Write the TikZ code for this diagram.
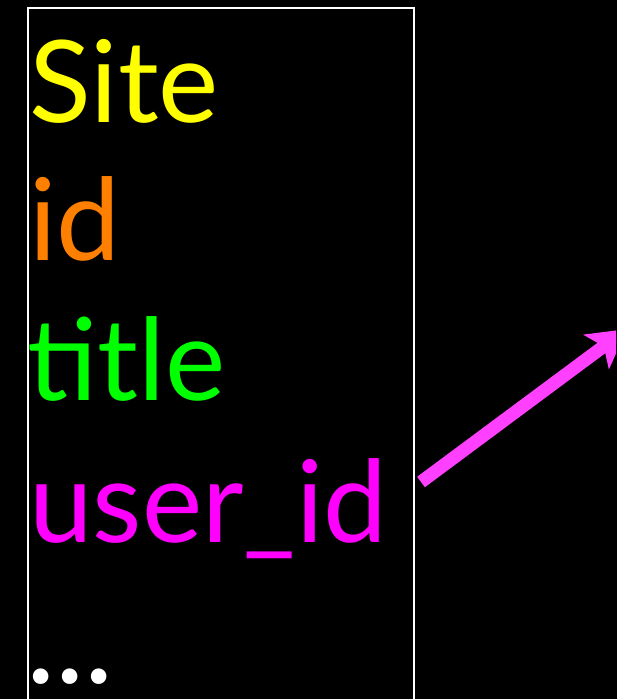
\documentclass[tikz,border=0pt]{standalone}
\usepackage{fontspec}
\setmainfont{Lato}
\usetikzlibrary{arrows.meta}

\definecolor{siteyellow}{RGB}{255,255,0}
\definecolor{idorange}{RGB}{255,128,0}
\definecolor{titlegreen}{RGB}{0,255,0}
\definecolor{fkmagenta}{RGB}{255,0,255}
\definecolor{fkarrow}{RGB}{255,64,255}
\def\pagebox #1;{\useasboundingbox #1;}

\tikzset{
    field/.style={anchor=base west,inner sep=0pt,font=\fontsize{114}{140}\selectfont},
    fkline/.style={line width=13pt,color=fkarrow,-{Stealth[length=38pt,width=42pt,inset=9pt]}}
}

\begin{document}
\begin{tikzpicture}[x=1pt,y=-1pt]
\pagebox (0,0) rectangle (616,699);
    \fill[black] (-20,-20) rectangle (640,720);
    \clip (0,0) rectangle (616,699);
    \draw[white,line width=2pt] (28,8) rectangle (414,760);
    % table fields
    \node[field,text=siteyellow] (site) at (29,122) {Site};
    \node[field,text=idorange] (id) at (29,260) {id};
    \node[field,text=titlegreen] (title) at (27,400) {title};
    \node[field,text=fkmagenta] (userid) at (29,542) {user\_id};
    \node[field,text=white,font=\fontsize{124}{140}\selectfont] (more) at (26,683) {...};
    % foreign key
    \coordinate (fk) at (421,482);
    \coordinate (ref) at (627,329);
    \draw[fkline] (fk) -- (ref);
\end{tikzpicture}
\end{document}
